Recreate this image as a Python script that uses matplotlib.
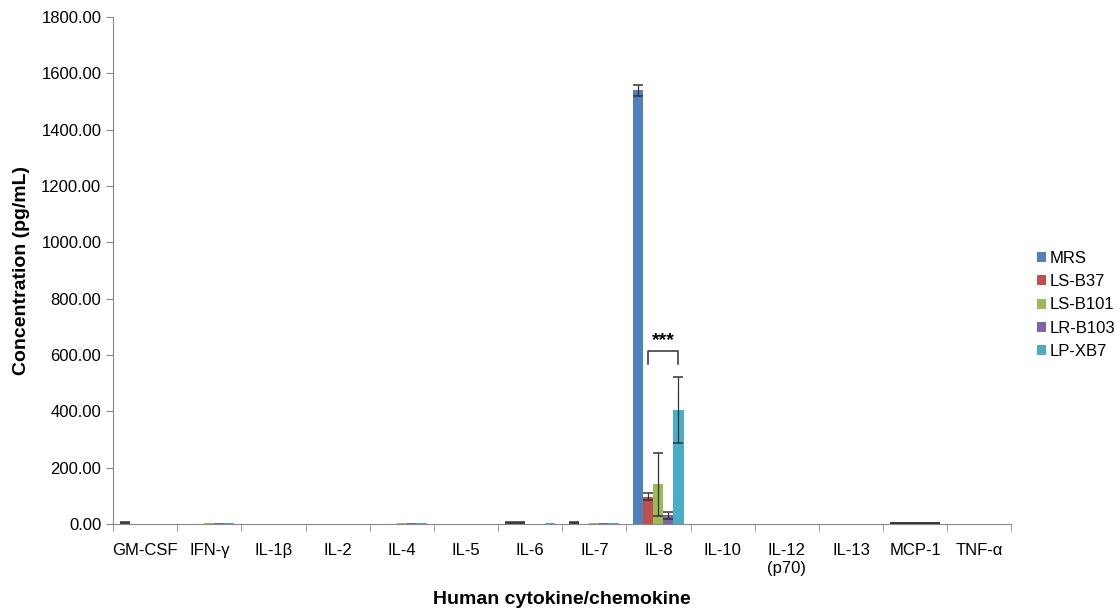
import numpy as np
import matplotlib.pyplot as plt

plt.rcParams['font.family'] = ['Liberation Sans', 'DejaVu Sans']

categories = ['GM-CSF', 'IFN-γ', 'IL-1β', 'IL-2', 'IL-4', 'IL-5', 'IL-6', 'IL-7',
              'IL-8', 'IL-10', 'IL-12\n(p70)', 'IL-13', 'MCP-1', 'TNF-α']
series = ['MRS', 'LS-B37', 'LS-B101', 'LR-B103', 'LP-XB7']
colors = ['#4F81BD', '#C0504D', '#9BBB59', '#8064A2', '#4BACC6']

MRS = [4, 0, 0, 0, 0, 0, 4, 4, 1540, 0, 0, 0, 3, 0]
LS_B37 = [0, 0, 0, 0, 0, 0, 4, 0, 97, 0, 0, 0, 3, 0]
LS_B101 = [0, 3, 0, 0, 3, 0, 0, 3, 140, 0, 0, 0, 3, 0]
LR_B103 = [0, 3, 0, 0, 3, 0, 0, 3, 30, 0, 0, 0, 3, 0]
LP_XB7 = [0, 3, 0, 0, 3, 0, 3, 3, 405, 0, 0, 0, 3, 0]

MRS_err = [1, 0, 0, 0, 0, 0, 1, 1, 20, 0, 0, 0, 1, 0]
LS_B37_err = [0, 0, 0, 0, 0, 0, 1, 0, 12, 0, 0, 0, 1, 0]
LS_B101_err = [0, 0, 0, 0, 0, 0, 0, 0, 113, 0, 0, 0, 1, 0]
LR_B103_err = [0, 0, 0, 0, 0, 0, 0, 0, 12, 0, 0, 0, 1, 0]
LP_XB7_err = [0, 0, 0, 0, 0, 0, 0, 0, 118, 0, 0, 0, 1, 0]

values = [MRS, LS_B37, LS_B101, LR_B103, LP_XB7]
errors = [MRS_err, LS_B37_err, LS_B101_err, LR_B103_err, LP_XB7_err]

fig = plt.figure(figsize=(11.2, 6.12), dpi=100)
ax = fig.add_axes([0.101, 0.144, 0.802, 0.828])

x = np.arange(len(categories))
w = 0.156
for i, (name, vals, errs, c) in enumerate(zip(series, values, errors, colors)):
    pos = x + (i - 2) * w
    ax.bar(pos, vals, width=w, color=c, label=name, zorder=2)
    errs = np.array(errs, dtype=float)
    mask = errs > 0
    ax.errorbar(pos[mask], np.array(vals)[mask], yerr=errs[mask], fmt='none',
                ecolor='#333333', elinewidth=0.9, capsize=3.5, capthick=1.1, zorder=3)

# significance bracket over IL-8 group
i8 = categories.index('IL-8')
x1 = i8 + (1 - 2) * w
x2 = i8 + (4 - 2) * w
ax.plot([x1, x1, x2, x2], [568, 614, 614, 568], color='#404040', lw=1.2)
ax.text((x1 + x2) / 2, 622, '***', ha='center', va='bottom', fontsize=14, fontweight='bold')

ax.set_xlim(-0.5, len(categories) - 0.5)
ax.set_ylim(0, 1800)
ax.set_yticks(np.arange(0, 1801, 200))
ax.set_yticklabels(['%.2f' % v for v in np.arange(0, 1801, 200)], fontsize=12)
ax.set_xticks(x)
ax.set_xticklabels(categories, fontsize=12, va='top')
ax.set_xticks(np.arange(-0.5, len(categories), 1), minor=True)
ax.tick_params(axis='x', which='major', length=0, pad=14)
ax.tick_params(axis='x', which='minor', length=5, color='#888888')
ax.tick_params(axis='y', length=5, color='#888888')

for s in ['top', 'right']:
    ax.spines[s].set_visible(False)
for s in ['left', 'bottom']:
    ax.spines[s].set_color('#888888')

ax.set_ylabel('Concentration (pg/mL)', fontsize=14, fontweight='bold', labelpad=8)
ax.set_xlabel('Human cytokine/chemokine', fontsize=14, fontweight='bold', labelpad=11)

ax.legend(loc='center left', bbox_to_anchor=(1.012, 0.432), frameon=False, fontsize=12,
          handlelength=0.55, handleheight=0.55, handletextpad=0.2, labelspacing=0.5)

fig.savefig('out.png', dpi=100)
